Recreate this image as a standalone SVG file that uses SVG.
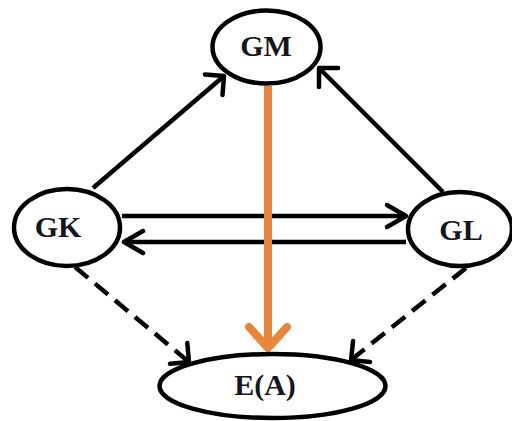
<svg xmlns="http://www.w3.org/2000/svg" width="512" height="421" viewBox="0 0 512 421">
  <style>
    .node { fill: #ffffff; stroke: #000000; stroke-width: 4.5; }
    .label { font-family: "Liberation Serif", "Times New Roman", serif; font-weight: bold; font-size: 30px; fill: #151520; text-anchor: middle; }
    .edge { fill: none; stroke: #000000; stroke-width: 4.5; stroke-linecap: butt; }
    .dashed { stroke-dasharray: 17 9; }
    .orange { fill: none; stroke: #e8873a; stroke-width: 8; }
    .head { fill: none; stroke: #000000; stroke-width: 4.5; stroke-linecap: round; stroke-linejoin: round; }
    .headO { fill: none; stroke: #e8873a; stroke-width: 8; stroke-linecap: round; stroke-linejoin: round; }
  </style>
  <defs>
    <marker id="arrWide" markerUnits="userSpaceOnUse" viewBox="-30 -30 40 60" markerWidth="40" markerHeight="60" refX="0" refY="0" orient="auto" overflow="visible">
      <path class="head" d="M -13.5 -13.5 L 0 0 L -13.5 13.5"/>
    </marker>
    <marker id="arrNarrow" markerUnits="userSpaceOnUse" viewBox="-30 -30 40 60" markerWidth="40" markerHeight="60" refX="0" refY="0" orient="auto" overflow="visible">
      <path class="head" d="M -19 -11 L 0 0 L -19 11"/>
    </marker>
    <marker id="arrOrange" markerUnits="userSpaceOnUse" viewBox="-30 -30 40 60" markerWidth="40" markerHeight="60" refX="0" refY="0" orient="auto" overflow="visible">
      <path class="headO" d="M -21 -19 L 0 0 L -21 19"/>
    </marker>
  </defs>
  <rect width="512" height="421" fill="#ffffff"/>

  <g id="connectors">
    <line class="edge" x1="93" y1="188" x2="224" y2="76" marker-end="url(#arrWide)"/>
    <line class="edge" x1="443" y1="192" x2="319" y2="68" marker-end="url(#arrWide)"/>
    <line class="edge" x1="122" y1="216" x2="406" y2="216" marker-end="url(#arrNarrow)"/>
    <line class="edge" x1="406" y1="242" x2="124" y2="242" marker-end="url(#arrNarrow)"/>
    <line class="edge dashed" x1="75" y1="267" x2="189" y2="362" marker-end="url(#arrWide)"/>
    <line class="edge dashed" x1="466" y1="268" x2="351" y2="360" marker-end="url(#arrWide)"/>
    <line class="orange" x1="268" y1="86" x2="268" y2="348" marker-end="url(#arrOrange)"/>
  </g>

  <g id="node-GM">
    <ellipse class="node" cx="266.5" cy="47" rx="54" ry="36.5"/>
    <text class="label" x="266" y="56">GM</text>
  </g>
  <g id="node-GK">
    <ellipse class="node" cx="67" cy="227.5" rx="53" ry="38.5"/>
    <text class="label" x="58" y="237">GK</text>
  </g>
  <g id="node-GL">
    <ellipse class="node" cx="460" cy="229" rx="52" ry="37"/>
    <text class="label" x="461" y="240">GL</text>
  </g>
  <g id="node-EA">
    <ellipse class="node" cx="272.5" cy="386" rx="113" ry="32"/>
    <text class="label" x="265" y="395">E(A)</text>
  </g>
</svg>
